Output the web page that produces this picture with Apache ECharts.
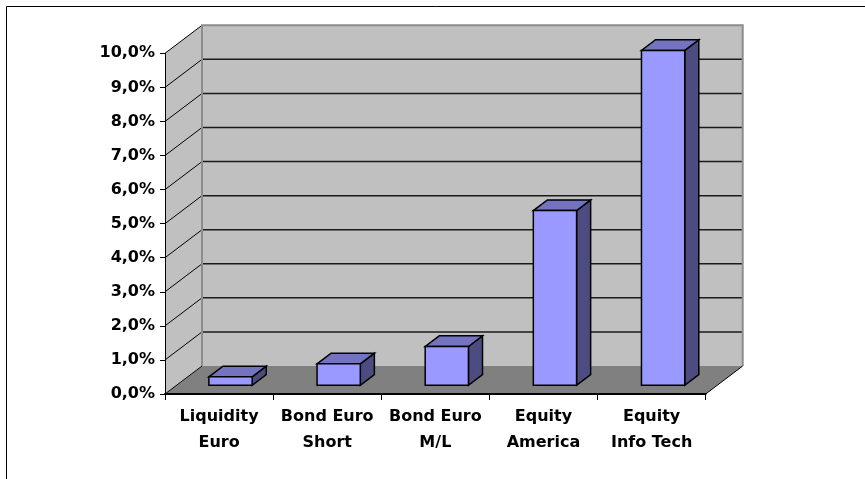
<!DOCTYPE html>
<html>
<head>
<meta charset="utf-8">
<title>Returns by asset class</title>
<script src="https://cdn.jsdelivr.net/npm/echarts@6/dist/echarts.min.js"></script>
<style>
  html, body { margin: 0; padding: 0; background: #fff; }
  #chart { width: 865px; height: 479px; }
</style>
</head>
<body>
<div id="chart"></div>
<script>
// Asset classes and their returns (in percent)
const categories = ['Liquidity\nEuro', 'Bond Euro\nShort', 'Bond Euro\nM/L', 'Equity\nAmerica', 'Equity\nInfo Tech'];
const returns = [0.25, 0.63, 1.14, 5.13, 9.83];

// Value axis ticks and their labels
const yTickValues = [0, 1, 2, 3, 4, 5, 6, 7, 8, 9, 10];
const yTickLabels = ['0,0%', '1,0%', '2,0%', '3,0%', '4,0%', '5,0%', '6,0%', '7,0%', '8,0%', '9,0%', '10,0%'];

// Oblique depth of the 3D box (pixels) and bar placement within it
const DX = 37, DY = -28;
const BAR_FRONT = 0.31;   // depth fraction where the bar front face sits
const BAR_DEPTH = 0.38;   // depth fraction occupied by the bar
const BAR_WIDTH = 0.40;   // fraction of the category band

const FONT = 'DejaVu Sans';

const chart = echarts.init(document.getElementById('chart'), null, { renderer: 'canvas' });

function renderWalls(params, api) {
  const cs = params.coordSys;
  const xl = cs.x, xr = cs.x + cs.width;
  const y0 = api.coord([0, 0])[1];
  const yTop = api.coord([0, yTickValues[yTickValues.length - 1]])[1];
  const children = [];

  // floor
  children.push({
    type: 'polygon',
    shape: { points: [[xl, y0], [xr, y0], [xr + DX, y0 + DY], [xl + DX, y0 + DY]] },
    style: { fill: '#808080' }
  });
  // left side wall
  children.push({
    type: 'polygon',
    shape: { points: [[xl, y0], [xl, yTop], [xl + DX, yTop + DY], [xl + DX, y0 + DY]] },
    style: { fill: '#C0C0C0' }
  });
  // back wall
  children.push({
    type: 'rect',
    shape: { x: xl + DX, y: yTop + DY, width: cs.width, height: y0 - yTop },
    style: { fill: '#C0C0C0' }
  });
  // gridlines on back wall and diagonals on side wall
  yTickValues.forEach(function (v) {
    const y = api.coord([0, v])[1];
    if (v > 0 && v < yTickValues[yTickValues.length - 1]) {
      children.push({
        type: 'line',
        shape: { x1: xl + DX, y1: y + DY, x2: xr + DX, y2: y + DY },
        style: { stroke: '#1a1a1a', lineWidth: 1.5 }
      });
    }
    children.push({
      type: 'line',
      shape: { x1: xl, y1: y, x2: xl + DX, y2: y + DY },
      style: { stroke: '#000', lineWidth: 1 }
    });
  });
  // back wall outline
  children.push({
    type: 'polyline',
    shape: { points: [[xl + DX, y0 + DY], [xl + DX, yTop + DY], [xr + DX, yTop + DY], [xr + DX, y0 + DY]] },
    style: { stroke: '#8c8c8c', lineWidth: 2, fill: null }
  });
  // floor right edge
  children.push({
    type: 'line',
    shape: { x1: xr, y1: y0, x2: xr + DX, y2: y0 + DY },
    style: { stroke: '#000', lineWidth: 1 }
  });
  return { type: 'group', children: children };
}

function renderBar(params, api) {
  const idx = api.value(0);
  const val = api.value(1);
  const base = api.coord([idx, 0]);
  const top = api.coord([idx, val]);
  const band = api.size([1, 0])[0];
  const w = band * BAR_WIDTH;
  const ox = BAR_FRONT * DX, oy = BAR_FRONT * DY;
  const dx = BAR_DEPTH * DX, dy = BAR_DEPTH * DY;
  const x0 = base[0] - w / 2 + ox, x1 = base[0] + w / 2 + ox;
  const yb = base[1] + oy, yt = top[1] + oy;
  const stroke = { stroke: '#000', lineWidth: 1.5, lineJoin: 'miter' };
  return {
    type: 'group',
    children: [
      {
        type: 'polygon',
        shape: { points: [[x1, yb], [x1, yt], [x1 + dx, yt + dy], [x1 + dx, yb + dy]] },
        style: Object.assign({ fill: '#4C4C80' }, stroke)
      },
      {
        type: 'polygon',
        shape: { points: [[x0, yt], [x1, yt], [x1 + dx, yt + dy], [x0 + dx, yt + dy]] },
        style: Object.assign({ fill: '#7373C0' }, stroke)
      },
      {
        type: 'polygon',
        shape: { points: [[x0, yb], [x1, yb], [x1, yt], [x0, yt]] },
        style: Object.assign({ fill: '#9999FF' }, stroke)
      }
    ]
  };
}

const option = {
  animation: false,
  backgroundColor: '#fff',
  grid: {
    left: 165,
    right: 159.3,
    top: 53.3,
    bottom: 85,
    containLabel: false,
    outerBoundsMode: 'none'
  },
  xAxis: {
    type: 'category',
    data: categories,
    z: 5,
    axisLine: { show: true, lineStyle: { color: '#000', width: 2 } },
    axisTick: { show: true, alignWithLabel: false, length: 6, lineStyle: { color: '#000', width: 1 } },
    axisLabel: {
      interval: 0,
      margin: 10,
      color: '#000',
      fontFamily: FONT,
      fontWeight: 'bold',
      fontSize: 16,
      lineHeight: 26
    },
    splitLine: { show: false }
  },
  yAxis: {
    type: 'value',
    min: 0,
    max: 10,
    interval: 1,
    z: 5,
    axisLine: { show: true, lineStyle: { color: '#000', width: 1 } },
    axisTick: { show: true, inside: false, length: 5, lineStyle: { color: '#000', width: 1 } },
    axisLabel: {
      margin: 10,
      color: '#000',
      fontFamily: FONT,
      fontWeight: 'bold',
      fontSize: 16,
      formatter: function (v) {
        const i = yTickValues.indexOf(v);
        return i >= 0 ? yTickLabels[i] : '';
      }
    },
    splitLine: { show: false }
  },
  graphic: [
    // chart area border (left and top)
    {
      type: 'polyline',
      silent: true,
      shape: { points: [[6.5, 479], [6.5, 6.5], [865, 6.5]] },
      style: { stroke: '#000', lineWidth: 1, fill: null }
    }
  ],
  series: [
    {
      type: 'custom',
      name: 'walls',
      z: 1,
      silent: true,
      clip: false,
      renderItem: renderWalls,
      data: [[0, 0]]
    },
    {
      type: 'custom',
      name: 'Return',
      z: 2,
      clip: false,
      renderItem: renderBar,
      encode: { x: 0, y: 1 },
      data: returns.map(function (v, i) { return [i, v]; })
    }
  ]
};

chart.setOption(option);
</script>
</body>
</html>
